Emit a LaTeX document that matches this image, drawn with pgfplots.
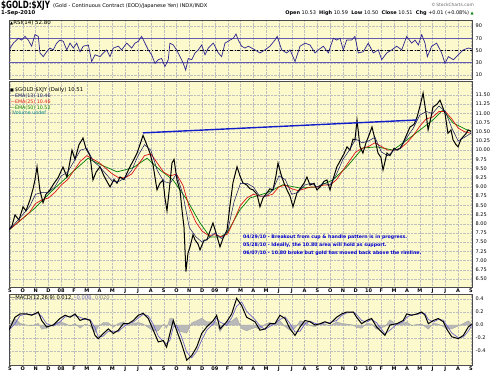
\documentclass[border=0pt]{standalone}
\usepackage{fontspec}
\setmainfont{DejaVu Sans}
\usepackage{graphicx}
\usepackage{pgfplots}
\pgfplotsset{compat=1.18}
\usepackage{pgfplotstable}
\definecolor{bg}{RGB}{252,250,205}
\definecolor{rsiline}{RGB}{45,35,140}
\definecolor{rsiband}{RGB}{100,90,175}
\definecolor{emaA}{RGB}{20,20,90}
\definecolor{emaB}{RGB}{220,20,20}
\definecolor{emaC}{RGB}{0,125,0}
\definecolor{annot}{RGB}{0,0,205}
\definecolor{trend}{RGB}{20,30,200}
\definecolor{sig}{RGB}{110,100,200}
\definecolor{teal2}{RGB}{0,130,130}

\pgfplotstableread{
m p
-0.08 7.83
0.16 7.95
0.39 8.24
0.70 8.10
1.02 8.46
1.25 8.35
1.56 8.65
1.80 8.95
1.95 9.19
2.11 9.55
2.34 8.90
2.58 8.57
2.81 8.80
3.12 8.92
3.44 9.10
3.75 9.25
4.14 9.54
4.45 9.27
4.69 9.70
4.84 10.00
5.08 9.75
5.39 10.15
5.62 10.28
5.70 10.33
5.93 10.05
6.25 9.85
6.48 9.19
6.72 9.40
7.03 9.55
7.34 9.30
7.57 9.15
7.81 9.00
8.12 9.20
8.36 9.10
8.59 9.27
8.90 9.20
9.14 9.38
9.37 9.55
9.68 9.75
9.92 9.92
10.15 10.15
10.39 10.40
10.62 10.20
10.93 9.92
11.17 9.60
11.48 8.92
11.71 9.10
11.95 9.19
12.10 8.70
12.26 8.35
12.49 9.10
12.65 9.65
12.81 9.75
13.04 9.19
13.28 8.90
13.43 8.38
13.59 7.90
13.74 6.70
13.90 7.20
14.06 7.37
14.29 7.70
14.45 7.56
14.68 7.45
14.84 7.29
15.15 7.55
15.38 7.56
15.62 7.80
15.85 8.02
16.09 7.75
16.40 7.37
16.63 7.60
16.95 7.83
17.18 8.50
17.41 9.11
17.73 9.55
17.96 9.30
18.19 9.11
18.50 9.05
18.74 8.95
18.98 8.92
19.29 8.80
19.52 8.46
19.76 8.70
20.07 8.84
20.30 8.95
20.54 8.92
20.77 9.30
20.93 9.65
21.16 9.35
21.40 9.10
21.63 8.92
21.87 8.75
22.10 8.46
22.41 8.84
22.65 8.95
22.96 9.10
23.19 9.27
23.43 9.05
23.74 9.10
23.97 8.92
24.21 9.00
24.52 9.15
24.75 9.19
24.99 8.92
25.22 9.20
25.53 9.55
25.77 9.70
26.08 9.90
26.32 10.09
26.55 10.00
26.79 10.30
26.94 10.28
27.10 10.82
27.33 10.10
27.56 9.92
27.80 10.20
28.03 10.40
28.27 10.63
28.50 10.30
28.74 9.92
28.97 9.80
29.13 9.46
29.44 9.92
29.67 9.85
29.99 10.05
30.22 10.00
30.46 10.05
30.69 10.19
31.01 10.45
31.24 10.63
31.55 10.70
31.79 10.90
32.02 11.20
32.26 11.55
32.49 11.00
32.65 10.55
32.88 10.90
33.03 11.17
33.35 11.25
33.58 11.36
33.81 11.15
33.97 11.00
34.20 10.46
34.44 10.55
34.60 10.28
34.83 10.15
34.99 10.09
35.22 10.30
35.38 10.36
35.61 10.45
35.77 10.55
36.00 10.51
}\price

\pgfplotstableread{
m a b
-0.08 7.83 7.83
0.5 8.05 8.00
1.0 8.25 8.15
1.5 8.45 8.30
2.0 8.80 8.55
2.5 8.85 8.65
3.0 8.85 8.70
3.5 9.00 8.85
4.0 9.30 9.05
4.5 9.40 9.20
5.0 9.70 9.45
5.5 10.00 9.70
6.0 10.05 9.85
6.5 9.70 9.75
7.0 9.55 9.65
7.5 9.35 9.50
8.0 9.15 9.35
8.5 9.15 9.25
9.0 9.25 9.25
9.5 9.45 9.35
10.0 9.85 9.60
10.5 10.15 9.85
11.0 10.00 9.90
11.5 9.45 9.65
12.0 9.15 9.40
12.5 9.10 9.30
13.0 9.35 9.35
13.5 8.80 9.05
14.0 7.90 8.45
14.5 7.65 8.05
15.0 7.50 7.80
15.5 7.60 7.68
16.0 7.75 7.70
16.5 7.60 7.65
17.0 7.80 7.72
17.5 8.60 8.10
18.0 9.10 8.50
18.5 9.10 8.70
19.0 9.00 8.80
19.5 8.75 8.75
20.0 8.75 8.75
20.5 8.90 8.80
21.0 9.30 9.00
21.5 9.20 9.05
22.0 8.80 8.95
22.5 8.85 8.90
23.0 9.05 8.95
23.5 9.10 9.00
24.0 9.00 9.00
24.5 9.10 9.05
25.0 9.05 9.05
25.5 9.35 9.20
26.0 9.75 9.45
26.5 10.00 9.70
27.0 10.30 9.95
27.5 10.20 10.05
28.0 10.25 10.10
28.5 10.35 10.20
29.0 9.95 10.10
29.5 9.85 10.00
30.0 10.00 10.00
30.5 10.05 10.05
31.0 10.35 10.20
31.5 10.60 10.40
32.0 10.95 10.65
32.5 11.05 10.85
33.0 11.00 10.90
33.5 11.20 11.05
34.0 11.05 11.05
34.5 10.60 10.85
35.0 10.25 10.60
35.5 10.35 10.50
36.0 10.46 10.46
}\emas

\pgfplotstableread{
m c
-0.08 7.83
1.80 8.38
3.12 8.84
4.45 9.27
6.09 9.78
6.79 9.65
8.36 9.41
9.60 9.52
10.70 9.78
11.71 9.46
12.73 9.19
13.82 8.65
14.84 8.02
15.62 7.64
16.40 7.64
16.95 7.75
17.96 8.38
18.74 8.70
20.07 8.84
21.32 9.06
22.65 8.97
23.97 9.00
25.22 9.19
26.32 9.55
27.56 10.06
28.66 10.09
29.91 10.00
31.01 10.28
32.02 10.55
33.03 10.82
33.81 11.09
34.60 10.74
35.69 10.55
36.00 10.52
}\emac

\pgfplotstableread{
m r
-0.05 52
0.26 62
0.65 70
0.91 67
1.17 73
1.43 67
1.69 57
1.95 76
2.21 73
2.34 46
2.60 40
2.86 48
3.12 54
3.38 51
3.64 62
3.90 67
4.16 65
4.43 51
4.69 62
4.95 54
5.21 62
5.47 48
5.72 57
6.12 59
6.38 32
6.64 43
7.03 40
7.29 46
7.55 51
7.81 40
8.07 54
8.46 57
8.72 51
9.11 62
9.50 54
9.76 62
10.02 65
10.28 73
10.54 62
10.80 51
11.06 43
11.32 29
11.58 35
11.84 37
12.10 24
12.36 35
12.49 62
12.75 59
13.01 51
13.28 40
13.53 29
13.72 18
13.92 37
14.19 35
14.45 46
14.70 51
14.97 59
15.23 43
15.49 54
15.88 62
16.27 46
16.53 40
16.79 62
17.18 67
17.44 70
17.65 77
17.83 67
18.09 57
18.35 54
18.61 57
19.13 51
19.52 46
19.91 51
20.30 57
20.69 67
20.87 73
21.22 51
21.61 46
21.87 51
22.26 32
22.65 57
23.04 62
23.43 59
23.82 46
24.08 51
24.47 57
24.86 46
25.25 70
25.51 67
25.77 70
26.03 51
26.29 67
26.68 67
26.94 73
27.20 46
27.59 48
27.98 62
28.37 46
28.76 51
29.03 35
29.42 46
29.81 51
30.20 57
30.59 51
30.98 73
31.37 62
31.63 67
31.89 59
32.15 76
32.41 62
32.59 40
32.93 57
33.32 62
33.71 46
33.97 29
34.23 40
34.62 35
35.01 43
35.40 51
35.79 54
36.05 52.8
}\rsi

\pgfplotstableread{
m mc s h
-0.08 -0.08 -0.08 0.00
0.39 0.12 0.02 0.10
0.78 0.17 0.145 0.025
1.30 0.17 0.17 0.00
1.69 0.15 0.16 -0.01
2.21 0.20 0.175 0.025
2.47 0.07 0.135 -0.065
2.86 -0.03 0.02 -0.05
3.38 0.00 -0.015 0.015
3.90 0.10 0.05 0.05
4.30 0.15 0.125 0.025
4.69 0.12 0.135 -0.015
5.08 0.17 0.145 0.025
5.47 0.07 0.12 -0.05
5.86 0.10 0.085 0.015
6.25 0.07 0.085 -0.015
6.64 -0.16 -0.045 -0.115
6.90 -0.21 -0.185 -0.025
7.29 -0.13 -0.17 0.04
7.68 -0.06 -0.095 0.035
8.07 -0.13 -0.095 -0.035
8.46 -0.08 -0.105 0.025
8.85 0.02 -0.03 0.05
9.24 0.02 0.02 0.00
9.63 0.07 0.045 0.025
10.02 0.15 0.11 0.04
10.41 0.18 0.165 0.015
10.80 0.10 0.14 -0.04
11.19 -0.08 0.01 -0.09
11.58 -0.26 -0.17 -0.09
11.97 -0.24 -0.25 0.01
12.23 -0.34 -0.29 -0.05
12.49 -0.13 -0.235 0.105
12.75 0.07 -0.03 0.10
13.01 -0.08 -0.005 -0.075
13.40 -0.29 -0.185 -0.105
13.80 -0.54 -0.415 -0.125
14.19 -0.47 -0.505 0.035
14.58 -0.34 -0.405 0.065
14.97 -0.13 -0.235 0.105
15.36 -0.03 -0.08 0.05
15.88 0.07 0.02 0.05
16.14 0.15 0.11 0.04
16.40 -0.06 0.045 -0.105
16.92 0.05 -0.005 0.055
17.31 0.17 0.11 0.06
17.70 0.41 0.29 0.12
18.09 0.30 0.355 -0.055
18.48 0.12 0.21 -0.09
19.13 0.05 0.085 -0.035
19.52 -0.08 -0.015 -0.065
19.91 -0.06 -0.07 0.01
20.30 0.02 -0.02 0.04
20.69 0.02 0.02 0.00
21.08 0.15 0.085 0.065
21.48 0.10 0.125 -0.025
21.87 -0.06 0.02 -0.08
22.26 -0.16 -0.11 -0.05
22.65 -0.03 -0.095 0.065
23.04 0.07 0.02 0.05
23.43 0.05 0.06 -0.01
23.82 0.00 0.025 -0.025
24.21 0.02 0.01 0.01
24.60 0.05 0.035 0.015
24.99 0.02 0.035 -0.015
25.51 0.12 0.07 0.05
25.90 0.17 0.145 0.025
26.29 0.20 0.185 0.015
26.81 0.20 0.20 0.00
27.07 0.12 0.16 -0.04
27.46 0.02 0.07 -0.05
27.85 0.07 0.045 0.025
28.24 0.10 0.085 0.015
28.63 -0.03 0.035 -0.065
29.03 -0.11 -0.07 -0.04
29.28 -0.16 -0.135 -0.025
29.67 0.00 -0.08 0.08
30.20 0.02 0.01 0.01
30.71 0.07 0.045 0.025
30.98 0.17 0.12 0.05
31.37 0.15 0.16 -0.01
31.76 0.17 0.16 0.01
32.15 0.20 0.185 0.015
32.41 0.15 0.175 -0.025
32.67 0.02 0.085 -0.065
33.06 0.07 0.045 0.025
33.45 0.10 0.085 0.015
33.84 0.05 0.075 -0.025
34.10 -0.06 -0.005 -0.055
34.49 -0.18 -0.12 -0.06
35.01 -0.21 -0.195 -0.015
35.40 -0.16 -0.185 0.025
35.79 -0.03 -0.095 0.065
36.05 0.012 -0.008 0.020
}\macd

\pgfplotsset{
  panel/.style={
    scale only axis, width=463pt,
    xmin=-0.078, xmax=36.08,
    axis background/.style={fill=bg},
    axis line style={draw=gray!60!black, line width=0.4pt},
    xtick={0,...,36},
    major tick length=0pt,
    grid=major,
    major grid style={densely dotted, draw=gray!50, line width=0.3pt},
    yticklabel pos=right,
    yticklabel style={font=\fontsize{5}{5}\selectfont, anchor=west, inner sep=0pt, xshift=3.5pt},
    xticklabel style={font=\fontsize{5}{5}\selectfont\bfseries, inner sep=0pt, yshift=-1.6pt},
  },
  months/.style={xticklabels={S,O,N,D,08,F,M,A,M,J,J,A,S,O,N,D,09,F,M,A,M,J,J,A,S,O,N,D,10,F,M,A,M,J,J,A,S}},
}

\begin{document}
\begin{tikzpicture}[x=1pt,y=1pt]
\useasboundingbox (0,0) rectangle (500,374);

% RSI panel
\begin{axis}[panel, at={(9pt,354pt)}, anchor=north west, height=59pt,
  ymin=3.5, ymax=99.8, ytick={10,30,50,70,90}, yticklabels={10,30,50,70,90},
  xticklabels={}]
  \addplot[rsiband, line width=1.1pt] coordinates {(-1,70) (37,70)};
  \addplot[rsiband, line width=1.1pt] coordinates {(-1,30) (37,30)};
  \addplot[black, line width=0.5pt, dash dot] coordinates {(-1,50) (37,50)};
  \addplot[rsiline, line width=0.7pt] table[x=m,y=r] {\rsi};
\end{axis}

% Price panel
\begin{axis}[panel, months, at={(9pt,293pt)}, anchor=north west, height=206pt,
  ymin=6.28, ymax=11.88,
  ytick={6.5,6.75,7,7.25,7.5,7.75,8,8.25,8.5,8.75,9,9.25,9.5,9.75,10,10.25,10.5,10.75,11,11.25,11.5},
  yticklabels={6.50,6.75,7.00,7.25,7.50,7.75,8.00,8.25,8.50,8.75,9.00,9.25,9.50,9.75,10.00,10.25,10.50,10.75,11.00,11.25,11.50}]
  \addplot[emaC, line width=0.7pt] table[x=m,y=c] {\emac};
  \addplot[emaB, line width=0.7pt] table[x=m,y=b] {\emas};
  \addplot[black, line width=1.0pt] table[x=m,y=p] {\price};
  \addplot[emaA, line width=0.5pt] table[x=m,y=a] {\emas};
  \addplot[trend, line width=1.4pt] coordinates {(10.39,10.47) (31.78,10.82)};
\end{axis}

% MACD panel
\begin{axis}[panel, months, at={(9pt,80pt)}, anchor=north west, height=71pt,
  ymin=-0.615, ymax=0.477,
  ytick={-0.4,-0.2,0,0.2,0.4}, yticklabels={-0.4,-0.2,0.0,0.2,0.4}]
  \addplot[fill=gray!55, draw=gray!75, line width=0.3pt] table[x=m,y=h] {\macd} \closedcycle;
  \addplot[sig, line width=0.7pt] table[x=m,y=s] {\macd};
  \addplot[black, line width=1.0pt] table[x=m,y=mc] {\macd};
\end{axis}

% Header
\node[anchor=west, inner sep=0pt] at (1,368.3) {\scalebox{0.72}[1]{\fontsize{10}{10}\selectfont\bfseries \$GOLD:\$XJY}};
\node[anchor=west, inner sep=0pt] at (53,368) {\fontsize{5.1}{6}\selectfont (Gold - Continuous Contract (EOD)/Japanese Yen) INDX/INDX};
\node[anchor=west, inner sep=0pt] at (1,360.5) {\fontsize{5.3}{6}\selectfont\bfseries 1-Sep-2010};
\node[anchor=east, inner sep=0pt, text=gray!80!black] at (474,369) {\fontsize{4.4}{5}\selectfont \textcopyright\,StockCharts.com};
\node[anchor=east, inner sep=0pt] at (474,361) {\fontsize{5}{6}\selectfont \textbf{Open} 10.53\ \ \textbf{High} 10.59\ \ \textbf{Low} 10.50\ \ \textbf{Close} 10.51\ \ \textbf{Chg} +0.01 (+0.08\%) {\color{emaC}\fontsize{4}{5}\selectfont ▲}};

% RSI legend
\node[anchor=west, inner sep=0pt] at (10,351.5) {\fontsize{5.5}{6}\selectfont {\fontsize{4}{5}\selectfont ▲}RSI(14) 52.80};

% Price legend
\node[anchor=west, inner sep=0pt] at (10,284) {\fontsize{5.3}{6}\selectfont {\fontsize{4}{5}\selectfont ■}\,\$GOLD:\$XJY (Daily) 10.51};
\node[anchor=west, inner sep=0pt, text=emaA] at (10,278.3) {\fontsize{4.8}{5}\selectfont —EMA(13) 10.46};
\node[anchor=west, inner sep=0pt, text=emaB] at (10,272.3) {\fontsize{4.8}{5}\selectfont —EMA(25) 10.46};
\node[anchor=west, inner sep=0pt, text=emaC] at (10,266.3) {\fontsize{4.8}{5}\selectfont —EMA(50) 10.52};
\node[anchor=west, inner sep=0pt, text=teal2] at (10,260.8) {\fontsize{4.8}{5}\selectfont \textcolor{gray}{ıl}Volume undef};

% Annotations
\node[anchor=west, inner sep=0pt, text=annot] at (243,137) {\fontsize{4.7}{5}\selectfont\bfseries 04/29/10 - Breakout from cup \& handle pattern is in progress.};
\node[anchor=west, inner sep=0pt, text=annot] at (243,129) {\fontsize{4.7}{5}\selectfont\bfseries 05/28/10 - Ideally, the 10.80 area will hold as support.};
\node[anchor=west, inner sep=0pt, text=annot] at (243,121) {\fontsize{4.7}{5}\selectfont\bfseries 06/07/10 - 10.80 broke but gold has moved back above the rimline.};

% MACD legend
\node[anchor=west, inner sep=0pt] at (10,76) {\fontsize{5.2}{6}\selectfont —MACD(12,26,9) 0.012, \textcolor{sig}{-0.008,} \textcolor{gray}{0.020}};
\end{tikzpicture}
\end{document}
